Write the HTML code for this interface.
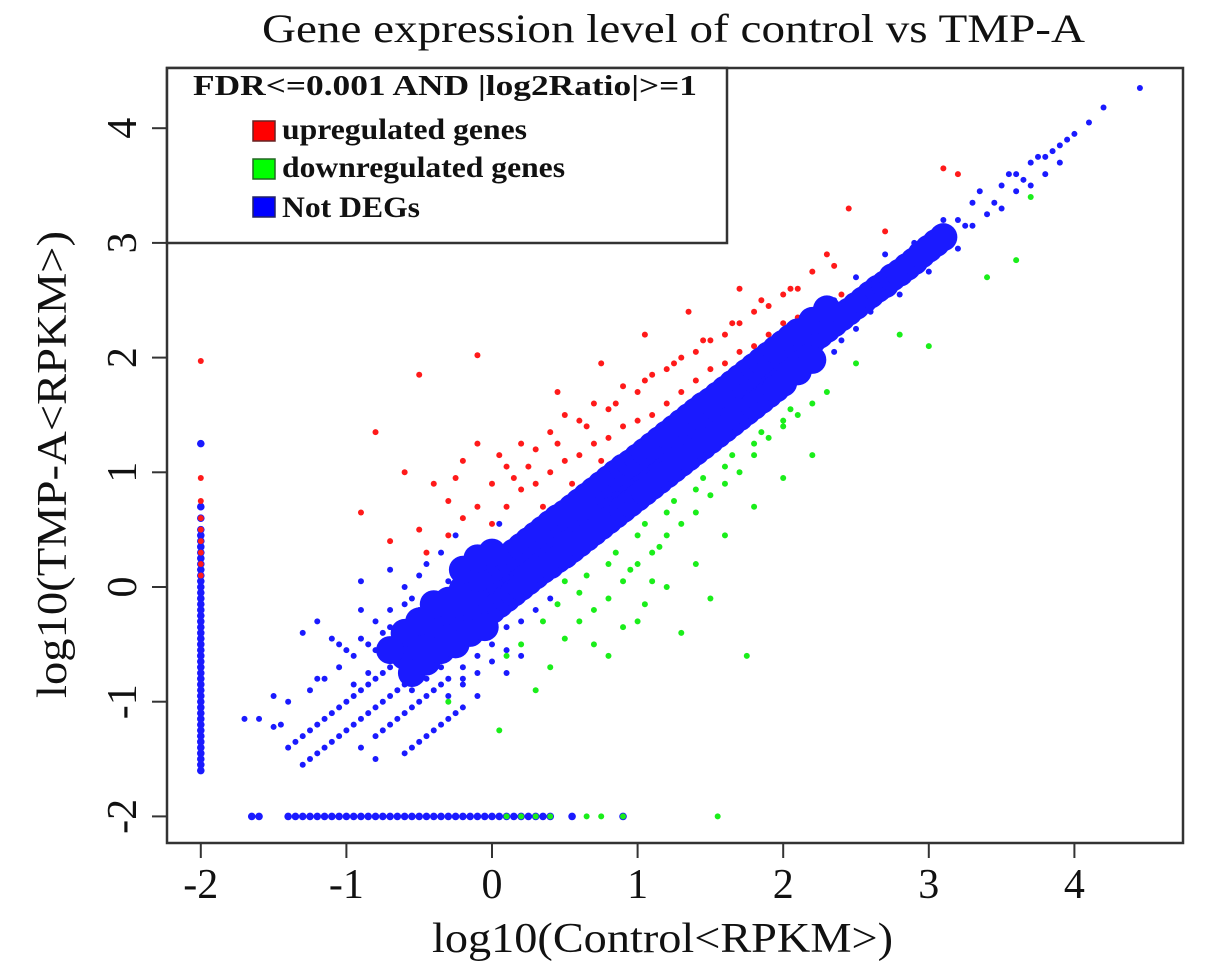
<!DOCTYPE html>
<html><head><meta charset="utf-8"><style>
html,body{margin:0;padding:0;background:#fff;width:1205px;height:974px;overflow:hidden}
svg{display:block}
text{font-family:"Liberation Serif",serif;fill:#111}
</style></head><body>
<svg id="chart" width="1205" height="974" viewBox="0 0 1205 974">
<text x="262" y="42" font-size="40" textLength="823" lengthAdjust="spacingAndGlyphs">Gene expression level of control vs TMP-A</text>
<g id="marks"></g>
<rect x="167" y="68" width="1016" height="775" fill="none" stroke="#333" stroke-width="2.5"/>
<g id="axes"></g>
<g>
<rect x="167" y="68" width="560" height="175" fill="#fff" stroke="#333" stroke-width="2.5"/>
<text x="193" y="95" font-size="29" font-weight="bold" textLength="504" lengthAdjust="spacingAndGlyphs">FDR&lt;=0.001 AND |log2Ratio|&gt;=1</text>
<rect x="253" y="121" width="22" height="20" fill="#f00" stroke="#622" stroke-width="1.5"/>
<text x="282" y="139" font-size="30" font-weight="bold" textLength="245" lengthAdjust="spacingAndGlyphs">upregulated genes</text>
<rect x="253" y="159" width="22" height="20" fill="#0f0" stroke="#262" stroke-width="1.5"/>
<text x="282" y="177" font-size="30" font-weight="bold" textLength="283" lengthAdjust="spacingAndGlyphs">downregulated genes</text>
<rect x="253" y="197" width="22" height="20" fill="#00f" stroke="#226" stroke-width="1.5"/>
<text x="282" y="217" font-size="30" font-weight="bold" textLength="138" lengthAdjust="spacingAndGlyphs">Not DEGs</text>
</g>
<text x="432" y="952" font-size="42" textLength="461" lengthAdjust="spacingAndGlyphs">log10(Control&lt;RPKM&gt;)</text>
<text x="0" y="0" font-size="42" textLength="467" lengthAdjust="spacingAndGlyphs" transform="translate(66,698) rotate(-90)">log10(TMP-A&lt;RPKM&gt;)</text>
</svg>
<script>
const xTicks=[-2,-1,0,1,2,3,4];
const yTicks=[-2,-1,0,1,2,3,4];
const xTickLabels=["-2","-1","0","1","2","3","4"];
const yTickLabels=["-2","-1","0","1","2","3","4"];
// blue dense core (not DEGs)
const coreBlue="-0.6 -0.6,-0.55 -0.55,-0.5 -0.48,-0.45 -0.44,-0.4 -0.38,-0.35 -0.34,-0.3 -0.3,-0.25 -0.25,-0.2 -0.2,-0.15 -0.15,-0.1 -0.1,-0.05 -0.06,0 -0.02,0.05 0.03,0.1 0.07,0.15 0.12,0.2 0.17,0.25 0.22,0.3 0.27,0.35 0.31,0.4 0.36,0.45 0.41,0.5 0.46,0.55 0.51,0.6 0.56,0.65 0.61,0.7 0.66,0.75 0.71,0.8 0.76,0.85 0.81,0.9 0.86,0.95 0.9,1 0.95,1.05 1.0,1.1 1.05,1.15 1.1,1.2 1.15,1.25 1.2,1.3 1.25,1.35 1.3,1.4 1.35,1.45 1.4,1.5 1.45,1.55 1.5,1.6 1.55,1.65 1.6,1.7 1.65,1.75 1.7,1.8 1.75,1.85 1.8,1.9 1.85,1.95 1.9,2 1.95,2.05 2.0,2.1 2.05,2.15 2.1,2.2 2.15,2.25 2.2,2.3 2.25,2.35 2.3,2.4 2.35,2.45 2.4,2.5 2.45,2.55 2.5,2.6 2.55,2.65 2.6,2.7 2.64,2.75 2.7,2.8 2.74,2.85 2.79,2.9 2.84,2.95 2.9,3.0 2.95,3.05 3.0,3.1 3.05,-0.3 -0.12,-0.2 -0.02,-0.1 0.08,0 0.16,0.05 0.2,0.1 0.25,0.15 0.3,0.2 0.35,0.25 0.4,0.3 0.45,0.35 0.5,0.4 0.55,0.45 0.6,0.5 0.64,0.55 0.69,0.6 0.74,0.65 0.79,0.7 0.84,0.75 0.89,0.8 0.94,0.85 0.99,0.9 1.04,0.95 1.08,1 1.13,1.05 1.18,1.1 1.23,1.15 1.28,1.2 1.33,1.25 1.38,1.3 1.43,1.35 1.48,1.4 1.53,1.45 1.58,1.5 1.62,1.55 1.67,1.6 1.72,1.65 1.77,1.7 1.82,1.75 1.87,1.8 1.92,1.85 1.97,1.9 2.02,1.95 2.07,2.0 2.12,2.05 2.17,2.1 2.22,2.2 2.32,2.3 2.42,-0.3 -0.45,-0.2 -0.37,-0.1 -0.28,0 -0.2,0.05 -0.15,0.1 -0.1,0.15 -0.05,0.2 0,0.25 0.05,0.3 0.1,0.35 0.15,0.4 0.19,0.45 0.24,0.5 0.28,0.55 0.33,0.6 0.38,0.65 0.43,0.7 0.48,0.75 0.53,0.8 0.58,0.85 0.63,0.9 0.68,0.95 0.73,1 0.78,1.05 0.83,1.1 0.88,1.15 0.93,1.2 0.98,1.25 1.03,1.3 1.08,1.35 1.13,1.4 1.18,1.45 1.23,1.5 1.28,1.55 1.33,1.6 1.38,1.65 1.43,1.7 1.48,1.75 1.53,1.8 1.58,1.85 1.63,1.9 1.68,1.95 1.73,2.0 1.78,2.1 1.88,2.2 1.98,-0.4 -0.15,-0.5 -0.3,-0.6 -0.4,-0.7 -0.55,-0.55 -0.75,-0.45 -0.65,-0.35 -0.55,-0.25 -0.5,-0.15 -0.4,-0.05 -0.35,-0.2 0.15,-0.1 0.25,0 0.3";
// scattered not-DEG points
const blueScatter="-1.6 -1.15,-1.5 -1.22,-1.4 -1.4,-1.3 -1.3,-1.2 -1.2,-1.1 -1.1,-1.0 -1.0,-0.9 -0.9,-0.8 -0.8,-0.7 -0.7,-1.35 -1.35,-1.25 -1.25,-1.15 -1.15,-1.05 -1.05,-0.95 -0.95,-0.85 -0.85,-0.75 -0.75,-0.65 -0.65,-1.3 -1.55,-1.2 -1.45,-1.1 -1.35,-1.0 -1.25,-0.9 -1.15,-0.8 -1.05,-0.7 -0.95,-0.6 -0.85,-0.5 -0.75,-1.25 -1.5,-1.15 -1.4,-1.05 -1.3,-0.95 -1.2,-0.85 -1.1,-0.75 -1.0,-0.65 -0.9,-1.25 -0.9,-1.15 -0.8,-1.05 -0.7,-0.95 -0.6,-0.85 -0.5,-0.75 -0.4,-1.0 -0.55,-0.9 -0.45,-0.8 -0.3,-0.7 -0.2,-0.6 -0.15,-1.3 -0.4,-1.2 -0.3,-1.1 -0.45,-0.8 -1.3,-0.7 -1.2,-0.6 -1.1,-0.5 -1.0,-0.4 -0.9,-0.3 -0.8,-0.75 -1.25,-0.65 -1.15,-0.55 -1.05,-0.45 -0.95,-0.35 -0.85,-0.6 -1.45,-0.5 -1.35,-0.4 -1.25,-0.3 -1.15,-0.2 -1.05,-0.1 -0.95,-0.55 -1.4,-0.45 -1.3,-0.35 -1.2,-0.25 -1.1,-0.9 -1.4,-0.8 -1.5,-0.5 -0.3,-0.4 -0.1,-0.3 0.05,-0.4 -0.55,-0.3 -0.6,-0.2 -0.7,-0.1 -0.6,0 -0.5,0.1 -0.55,-0.6 0,-0.5 0.1,-0.7 0.15,-0.9 0.05,-0.6 -0.45,-0.5 -0.6,-1.4 -1.0,-1.5 -0.95,-0.2 0.15,-0.1 0.3,0 0.35,0.1 -0.35,0.2 -0.3,0.3 -0.2,0.4 -0.1,-0.35 0.3,-0.25 0.45,0.05 0.55,-0.55 -0.9,-0.45 -0.8,-0.35 -0.7,-0.25 -0.55,-0.15 -0.45,-0.9 -0.2,-1.05 -0.5,-1.2 -0.8,-0.6 -0.6,-0.5 -0.2,-0.4 -0.35,-0.7 -0.35,-0.8 -0.55,-0.2 -0.85,-0.1 -0.75,0 -0.65,0.1 -0.75,0.2 -0.6,-0.3 -0.95,-0.2 -0.8,-0.45 0.2,-0.55 -0.1,-0.85 -0.75,-0.95 -0.85,-1.45 -1.2,-1.7 -1.15,2.4 2.15,2.5 2.7,2.6 2.4,2.7 2.9,2.8 2.55,2.9 3.0,3.0 2.75,3.1 3.2,3.2 2.95,3.3 3.35,3.4 3.25,3.5 3.5,3.6 3.45,3.7 3.7,3.8 3.6,3.9 3.85,4.0 3.95,4.1 4.05,4.2 4.18,4.45 4.35,3.55 3.6,3.65 3.55,3.75 3.75,3.85 3.8,3.95 3.9,3.35 3.45,3.25 3.15,3.15 3.1,3.05 2.9,2.95 2.85,2.85 2.8,2.75 2.75,2.65 2.62,2.55 2.48,2.45 2.35,2.35 2.5,2.25 2.3,2.15 2.3,2.05 2.2,1.95 2.15,1.85 1.65,1.75 1.6,2.35 2.05,2.5 2.25,3.0 3.0,3.45 3.35,3.2 3.2,3.3 3.15,3.5 3.3,3.6 3.6,3.7 3.5,3.8 3.75,3.9 3.7";
// vertical strip at x=-2 and horizontal strip at y=-2
const blueStrips="-2 -1.6,-2 -1.55,-2 -1.5,-2 -1.45,-2 -1.4,-2 -1.35,-2 -1.3,-2 -1.25,-2 -1.2,-2 -1.15,-2 -1.1,-2 -1.05,-2 -1.0,-2 -0.95,-2 -0.9,-2 -0.85,-2 -0.8,-2 -0.75,-2 -0.7,-2 -0.65,-2 -0.6,-2 -0.55,-2 -0.5,-2 -0.45,-2 -0.4,-2 -0.35,-2 -0.3,-2 -0.25,-2 -0.2,-2 -0.15,-2 -0.1,-2 -0.05,-2 0,-2 0.05,-2 0.1,-2 0.15,-2 0.2,-2 0.25,-2 0.3,-2 0.35,-2 0.4,-2 0.45,-2 0.5,-2 0.6,-2 0.7,-2 1.25,-1.65 -2,-1.6 -2,-1.4 -2,-1.35 -2,-1.3 -2,-1.25 -2,-1.2 -2,-1.15 -2,-1.1 -2,-1.05 -2,-1.0 -2,-0.95 -2,-0.9 -2,-0.85 -2,-0.8 -2,-0.75 -2,-0.7 -2,-0.65 -2,-0.6 -2,-0.55 -2,-0.5 -2,-0.45 -2,-0.4 -2,-0.35 -2,-0.3 -2,-0.25 -2,-0.2 -2,-0.15 -2,-0.1 -2,-0.05 -2,0 -2,0.05 -2,0.1 -2,0.15 -2,0.2 -2,0.25 -2,0.3 -2,0.35 -2,0.4 -2,0.55 -2,0.9 -2";
const redPts="-2 0.1,-2 0.2,-2 0.3,-2 0.4,-2 0.5,-2 0.6,-2 0.75,-2 0.95,-2 1.97,-0.8 1.35,-0.5 1.85,-0.1 2.02,-0.9 0.65,-0.6 1.0,-0.4 0.9,-0.3 0.75,-0.2 1.1,-0.1 1.25,0 0.9,0.1 1.05,0.2 1.25,0.3 1.2,0.4 1.35,0.5 1.5,0.6 1.45,0.7 1.6,0.8 1.55,0.9 1.75,1.0 1.7,1.1 1.85,1.2 1.9,1.3 2.0,1.4 2.05,1.5 2.15,1.6 2.2,1.7 2.3,1.8 2.4,1.9 2.45,2.0 2.55,2.1 2.6,2.2 2.75,2.3 2.9,2.45 3.3,2.7 3.1,3.1 3.65,3.2 3.6,-0.5 0.5,-0.3 0.45,-0.2 0.6,-0.1 0.7,0 0.55,0.1 0.7,0.2 0.85,0.3 0.9,0.4 1.0,0.5 1.1,0.6 1.15,0.7 1.25,0.8 1.3,0.9 1.4,1.0 1.45,1.1 1.5,1.2 1.6,1.3 1.7,1.4 1.8,1.5 1.9,1.6 1.95,1.7 2.05,1.8 2.1,1.9 2.2,2.0 2.3,2.1 2.35,0.45 1.7,0.75 1.95,1.05 2.2,1.35 2.4,1.7 2.6,2.25 2.45,2.4 2.55,0.35 0.7,0.55 0.9,0.75 1.1,0.95 1.2,1.15 1.4,1.35 1.55,1.55 1.75,1.75 1.95,1.95 2.1,-0.7 0.4,-0.45 0.3,0.25 1.05,0.45 1.25,0.65 1.4,0.85 1.6,1.05 1.8,1.25 1.95,1.45 2.15,1.65 2.3,1.85 2.5,2.05 2.6,2.35 2.8,0.15 0.95,-0.25 0.95,0.05 1.15";
const greenPts="0.1 -0.6,0.2 -0.5,0.3 -0.9,0.4 -0.7,0.5 -0.45,0.6 -0.3,0.7 -0.2,0.8 -0.1,0.9 0.05,1.0 0.2,1.1 0.3,1.2 0.45,1.3 0.55,1.4 0.65,1.5 0.8,1.6 0.9,1.7 1.0,1.8 1.15,1.9 1.3,2.0 1.4,2.1 1.5,2.2 1.6,2.3 1.7,2.5 1.95,2.8 2.2,3.0 2.1,3.4 2.7,3.6 2.85,3.7 3.4,1.3 -0.4,1.75 -0.6,1.5 -0.1,0.8 -0.6,1.0 -0.3,1.2 0,1.4 0.2,1.6 0.45,1.8 0.7,2.0 0.95,2.2 1.15,0.6 -0.05,0.8 0.2,1.0 0.45,1.2 0.65,1.4 0.85,1.6 1.05,1.8 1.25,2.0 1.45,0.5 0.05,0.7 -0.5,0.9 -0.35,1.1 0.05,0.35 -0.3,0.45 -0.15,0.1 -2,0.2 -2,0.3 -2,0.4 -2,0.65 -2,0.75 -2,0.9 -2,1.55 -2,-0.3 -1.0,0.05 -1.25,1.05 -0.15,0.65 0.1,0.85 0.3,1.05 0.55,1.25 0.75,1.45 0.95,1.65 1.15,1.85 1.35,2.05 1.55,0.95 0.15,1.15 0.35";

const svgNS="http://www.w3.org/2000/svg";
const X=v=>492+145.6*v, Y=v=>587-114.7*v;
const marks=document.getElementById('marks');
function parse(s){return s.split(',').map(p=>p.trim().split(/\s+/).map(Number));}
function drawSeries(s,color,r,name){
  parse(s).forEach(([a,b])=>{
    const c=document.createElementNS(svgNS,'circle');
    c.setAttribute('cx',X(a));c.setAttribute('cy',Y(b));c.setAttribute('r',r);c.setAttribute('fill',color);
    
    
    marks.appendChild(c);
  });
}
drawSeries(blueScatter,'#1a1aff',3,'not-deg-point');
drawSeries(blueStrips,'#1a1aff',3.8,'not-deg-point');
drawSeries(redPts,'#ff1a1a',3,'upregulated-point');
drawSeries(greenPts,'#1aee1a',3,'downregulated-point');
drawSeries(coreBlue,'#1a1aff',14,'not-deg-point');
const axes=document.getElementById('axes');
function mk(tag,attrs,txt){const e=document.createElementNS(svgNS,tag);for(const k in attrs)e.setAttribute(k,attrs[k]);if(txt!==undefined)e.textContent=txt;axes.appendChild(e);return e;}
xTicks.forEach((t,i)=>{
  const l=mk('line',{x1:X(t),x2:X(t),y1:843,y2:858,stroke:'#333','stroke-width':2});
  
  
  const tx=mk('text',{x:X(t),y:898,'font-size':42,'text-anchor':'middle'},xTickLabels[i]);
  
  
});
yTicks.forEach((t,i)=>{
  const l=mk('line',{x1:152,x2:167,y1:Y(t),y2:Y(t),stroke:'#333','stroke-width':2});
  
  
  const tx=mk('text',{x:0,y:0,'font-size':42,'text-anchor':'middle',transform:`translate(136,${Y(t)}) rotate(-90)`},yTickLabels[i]);
  
  
});
</script>
</body></html>
